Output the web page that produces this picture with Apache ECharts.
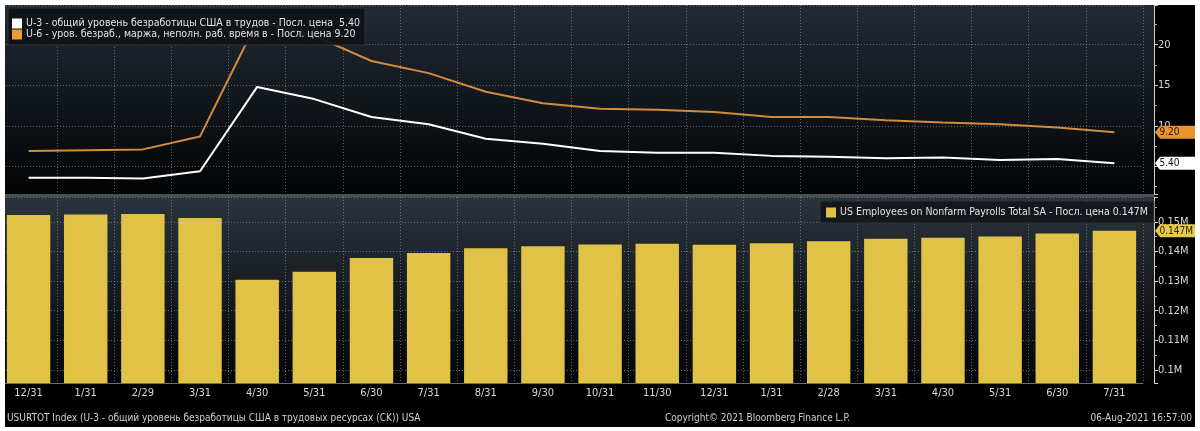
<!DOCTYPE html>
<html>
<head>
<meta charset="utf-8">
<script src="https://cdn.jsdelivr.net/npm/echarts@6/dist/echarts.min.js"></script>
<style>
html,body{margin:0;padding:0;background:#fff;}
#wrap{position:relative;width:1200px;height:431px;overflow:hidden;}
#chart{position:absolute;left:0;top:0;width:1200px;height:431px;}
#frame{position:absolute;left:0;top:0;width:1200px;height:431px;box-sizing:border-box;border-style:solid;border-color:#fff;border-width:5px 5px 4px 5px;pointer-events:none;}
</style>
</head>
<body>
<div id="wrap"><div id="chart"></div><div id="frame"></div></div>
<script>
// ---- data ----
const categories = ['12/31','1/31','2/29','3/31','4/30','5/31','6/30','7/31','8/31','9/30','10/31','11/30','12/31','1/31','2/28','3/31','4/30','5/31','6/30','7/31'];
const u3 = [3.6, 3.6, 3.5, 4.4, 14.8, 13.3, 11.1, 10.2, 8.4, 7.8, 6.9, 6.7, 6.7, 6.3, 6.2, 6.0, 6.1, 5.8, 5.9, 5.4];
const u6 = [6.9, 7.0, 7.1, 8.7, 22.9, 21.1, 18.0, 16.5, 14.2, 12.8, 12.1, 12.0, 11.7, 11.1, 11.1, 10.7, 10.4, 10.2, 9.8, 9.2];
const payrolls = [0.1523, 0.1525, 0.1527, 0.1513, 0.1305, 0.1332, 0.1378, 0.1395, 0.1411, 0.1418, 0.1424, 0.1426, 0.1423, 0.1428, 0.1435, 0.1443, 0.1446, 0.1451, 0.1461, 0.1470];
const u3Name = 'U-3 - общий уровень безработицы США в трудов - Посл. цена  ' + u3[u3.length-1].toFixed(2);
const u6Name = 'U-6 - уров. безраб., маржа, неполн. раб. время в - Посл. цена ' + u6[u6.length-1].toFixed(2);
const payName = 'US Employees on Nonfarm Payrolls Total SA - Посл. цена ' + payrolls[payrolls.length-1].toFixed(3) + 'M';
const footerLeft = 'USURTOT Index (U-3 - общий уровень безработицы США в трудовых ресурсах (CK)) USA';
const footerMid = 'Copyright\u00A9 2021 Bloomberg Finance L.P.';
const footerRight = '06-Aug-2021 16:57:00';

const FONT = '"DejaVu Sans Condensed","DejaVu Sans",sans-serif';
const last = categories.length - 1;
const AXIS_OFFSET = 11;

function tagRender(fill, textFill, fmt) {
  return function (params, api) {
    const v = api.value(1);
    const y = api.coord([api.value(0), v])[1];
    const x0 = params.coordSys.x + params.coordSys.width + AXIS_OFFSET + 1;
    const h = 6.5;
    return {
      type: 'group',
      children: [
        {type: 'polygon', shape: {points: [[x0, y], [x0 + 5, y - h], [x0 + 40, y - h], [x0 + 40, y + h], [x0 + 5, y + h]]}, style: {fill: fill}},
        {type: 'text', style: {text: fmt(v), x: x0 + 4.5, y: y + 0.5, verticalAlign: 'middle', fill: textFill, font: '10px ' + FONT}}
      ]
    };
  };
}

const chart = echarts.init(document.getElementById('chart'), null, {renderer: 'canvas'});
const dotted = {color: 'rgba(160,168,178,0.55)', width: 1, type: [1, 2]};
const axisTextColor = '#d8d8d8';
const FS = 10.5;

const option = {
  animation: false,
  backgroundColor: '#000',
  graphic: [
    {type: 'rect', z: -10, shape: {x: 5, y: 5, width: 1149, height: 189},
     style: {fill: new echarts.graphic.LinearGradient(0, 0, 0, 1, [{offset: 0, color: '#222a34'}, {offset: 0.55, color: '#10151a'}, {offset: 1, color: '#020304'}])}},
    {type: 'rect', z: -10, shape: {x: 5, y: 197, width: 1149, height: 186},
     style: {fill: new echarts.graphic.LinearGradient(0, 0, 0, 1, [{offset: 0, color: '#2b333c'}, {offset: 0.6, color: '#12171c'}, {offset: 1, color: '#030405'}])}},
    {type: 'rect', z: 50, shape: {x: 5, y: 194, width: 1149, height: 3}, style: {fill: '#4a4f56'}},
    {type: 'text', z: 50, style: {text: footerLeft, x: 7, y: 418, verticalAlign: 'middle', fill: '#d0d0d0', font: '10px ' + FONT}},
    {type: 'text', z: 50, style: {text: footerMid, x: 665, y: 418, verticalAlign: 'middle', fill: '#d0d0d0', font: '10px ' + FONT}},
    {type: 'text', z: 50, style: {text: footerRight, x: 1192, y: 418, align: 'right', verticalAlign: 'middle', fill: '#d0d0d0', font: '10px ' + FONT}}
  ],
  legend: [
    {
      data: [u3Name, u6Name], orient: 'vertical', left: 8, top: 8,
      itemWidth: 10, itemHeight: 10, itemGap: 0, icon: 'rect',
      backgroundColor: 'rgba(14,18,23,0.92)', borderColor: '#2c333b', borderWidth: 1,
      padding: [10, 5, 5, 4],
      textStyle: {color: '#e2e2e2', fontSize: FS, fontFamily: FONT, padding: [0, 0, 0, -1]},
      selectedMode: false
    },
    {
      data: [payName], orient: 'horizontal', left: 820, top: 201,
      itemWidth: 10, itemHeight: 10, icon: 'rect',
      backgroundColor: 'rgba(18,22,27,0.92)', borderColor: '#2c333b', borderWidth: 1,
      padding: [6, 6, 5, 6],
      textStyle: {color: '#e2e2e2', fontSize: FS, fontFamily: FONT, padding: [0, 0, 0, -1]},
      selectedMode: false
    }
  ],
  grid: [
    {left: 0, top: 5, width: 1143, height: 189},
    {left: 0, top: 197, width: 1143, height: 186}
  ],
  xAxis: [
    {type: 'category', gridIndex: 0, data: categories, boundaryGap: true,
     axisLine: {show: false}, axisTick: {show: false}, axisLabel: {show: false},
     splitLine: {show: true, interval: 0, lineStyle: dotted}},
    {type: 'category', gridIndex: 1, data: categories, boundaryGap: true,
     axisLine: {show: true, lineStyle: {color: '#6a6e74', width: 1}}, axisTick: {show: false},
     axisLabel: {show: true, interval: 0, color: axisTextColor, fontSize: 11, fontFamily: FONT, margin: 5},
     splitLine: {show: true, interval: 0, lineStyle: dotted}}
  ],
  yAxis: [
    {type: 'value', gridIndex: 0, position: 'right', offset: AXIS_OFFSET, min: 1.6, max: 24.9, splitNumber: 5,
     axisLine: {show: true, lineStyle: {color: '#d0d0d0', width: 1}},
     axisTick: {show: true, length: 4, lineStyle: {color: '#d0d0d0'}},
     minorTick: {show: true, splitNumber: 2, length: 3, lineStyle: {color: '#b0b0b0'}},
     axisLabel: {color: axisTextColor, fontSize: 11, fontFamily: FONT, margin: 4, showMinLabel: false, showMaxLabel: false},
     splitLine: {show: true, lineStyle: dotted}},
    {type: 'value', gridIndex: 1, position: 'right', offset: AXIS_OFFSET, min: 0.0956, max: 0.1584, splitNumber: 6,
     axisLine: {show: true, lineStyle: {color: '#d0d0d0', width: 1}},
     axisTick: {show: true, length: 4, lineStyle: {color: '#d0d0d0'}},
     minorTick: {show: true, splitNumber: 2, length: 3, lineStyle: {color: '#b0b0b0'}},
     axisLabel: {color: axisTextColor, fontSize: 11, fontFamily: FONT, margin: 4, showMinLabel: false, showMaxLabel: false,
       formatter: function (v) { return (+v.toFixed(3)) + 'M'; }},
     splitLine: {show: true, lineStyle: dotted}}
  ],
  series: [
    {name: u3Name, type: 'line', xAxisIndex: 0, yAxisIndex: 0, data: u3, symbol: 'none',
     itemStyle: {color: '#ffffff'}, lineStyle: {color: '#ffffff', width: 2}, z: 4},
    {name: u6Name, type: 'line', xAxisIndex: 0, yAxisIndex: 0, data: u6, symbol: 'none',
     itemStyle: {color: '#ee9a32'}, lineStyle: {color: '#d38b3e', width: 2}, z: 3},
    {name: payName, type: 'bar', xAxisIndex: 1, yAxisIndex: 1, data: payrolls, barCategoryGap: '24%',
     itemStyle: {color: '#e0c247'}},
    {type: 'custom', xAxisIndex: 0, yAxisIndex: 0, clip: false, z: 20, silent: true,
     data: [[last, u6[last]]], renderItem: tagRender('#e8952f', '#2a1a08', function (v) { return v.toFixed(2); })},
    {type: 'custom', xAxisIndex: 0, yAxisIndex: 0, clip: false, z: 20, silent: true,
     data: [[last, u3[last]]], renderItem: tagRender('#ffffff', '#111111', function (v) { return v.toFixed(2); })},
    {type: 'custom', xAxisIndex: 1, yAxisIndex: 1, clip: false, z: 20, silent: true,
     data: [[last, payrolls[last]]], renderItem: tagRender('#e6c84a', '#2a2408', function (v) { return v.toFixed(3) + 'M'; })}
  ]
};
chart.setOption(option);
</script>
</body>
</html>
